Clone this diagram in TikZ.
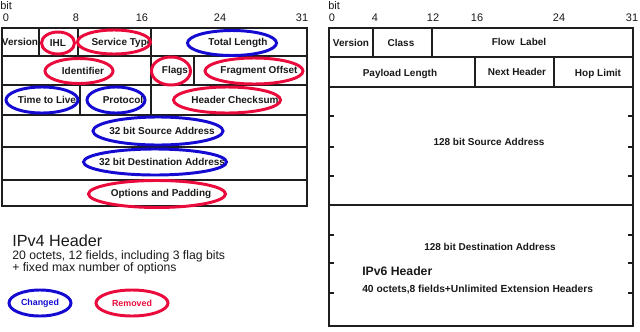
\documentclass[tikz,border=0pt]{standalone}
\usepackage{fontspec}
\setmainfont{Liberation Sans}
\usetikzlibrary{shapes.geometric}
\definecolor{chgblue}{RGB}{20,10,210}
\definecolor{rmvred}{RGB}{235,10,60}
\definecolor{tabline}{RGB}{30,30,30}
\definecolor{txtdark}{RGB}{25,25,25}
\newcommand{\pxu}{0.025cm}
\tikzset{
  field/.style={font=\fontsize{7.1}{8}\selectfont\bfseries, text=txtdark, inner sep=0pt},
  bitlbl/.style={font=\fontsize{7.8}{9}\selectfont, text=txtdark, inner sep=0pt},
  tabrule/.style={line width=0.9pt, color=tabline},
  notetxt/.style={anchor=base west, inner sep=0pt, font=\fontsize{8.7}{10}\selectfont, text=txtdark},
  chgring/.style 2 args={ellipse, draw=chgblue, line width=2.1pt,
    minimum width=#1*\pxu, minimum height=#2*\pxu, inner sep=0pt},
  rmvring/.style 2 args={ellipse, draw=rmvred, line width=2.1pt,
    minimum width=#1*\pxu, minimum height=#2*\pxu, inner sep=0pt}
}

\begin{document}
\begin{tikzpicture}[x=0.025cm, y=-0.025cm]
  \useasboundingbox (0,0) rectangle (640,331);

  % --- IPv4 header ---
  % bit scale
  \node[bitlbl, anchor=west] (vfbit) at (0,6) {bit};
  \node[bitlbl] (vfb0) at (6,18) {0};
  \node[bitlbl] (vfb8) at (76,18) {8};
  \node[bitlbl] (vfb16) at (142,18) {16};
  \node[bitlbl] (vfb24) at (220,18) {24};
  \node[bitlbl] (vfb31) at (302,18) {31};

  % frame and rows
  \draw[tabrule] (2,28) rectangle (307,206);
  \foreach \y in {56,85,115,147,180}
    \draw[tabrule] (2,\y) -- (307,\y);
  \draw[tabrule] (39,28) -- (39,56) (78,28) -- (78,56) (151,28) -- (151,56);
  \draw[tabrule] (151,56) -- (151,85) (194,56) -- (194,85);
  \draw[tabrule] (80,85) -- (80,115) (151,85) -- (151,115);

  % fields
  \node[field] (vfver) at (20,42) {Version};
  \node[field] (vfihl) at (58,43) {IHL};
  \node[field] (vftos) at (122,43) {Service Type};
  \node[field] (vflen) at (238,43) {Total Length};
  \node[field] (vfid) at (83,71) {Identifier};
  \node[field] (vfflags) at (175,71) {Flags};
  \node[field] (vffrag) at (259,71) {Fragment Offset};
  \node[field] (vfttl) at (47,100) {Time to Live};
  \node[field] (vfproto) at (123,100) {Protocol};
  \node[field] (vfcsum) at (235,100) {Header Checksum};
  \node[field] (vfsrc) at (162,131) {32 bit Source Address};
  \node[field] (vfdst) at (162,162) {32 bit Destination Address};
  \node[field] (vfopt) at (161,194) {Options and Padding};

  % rings round changed and removed fields
  \node[rmvring={33}{22}] (ihlring) at (58,43) {};
  \node[rmvring={73}{24}] (tosring) at (114,42) {};
  \node[chgring={89}{25}] (lenring) at (232,43) {};
  \node[rmvring={68}{25}] (idring) at (79,71) {};
  \node[rmvring={39}{28}] (flagsring) at (171,71) {};
  \node[rmvring={98}{26}] (fragring) at (254,71) {};
  \node[chgring={72}{26}] (ttlring) at (42,100) {};
  \node[chgring={58}{26}] (protoring) at (116,100) {};
  \node[rmvring={107}{26}] (csumring) at (227,100) {};
  \node[chgring={130}{28}] (srcring) at (158,131) {};
  \node[chgring={143}{26}] (dstring) at (155,162) {};
  \node[rmvring={137}{27}] (optring) at (157,194) {};

  % caption
  \node[notetxt, font=\fontsize{11.5}{13}\selectfont] (v4title) at (12,246) {IPv4 Header};
  \node[notetxt] (v4note) at (12,259) {20 octets, 12 fields, including 3 flag bits};
  \node[notetxt] (v4more) at (12,271) {+ fixed max number of options};

  % legend
  \node[chgring={62}{26}, text=chgblue, font=\fontsize{6.3}{7}\selectfont\bfseries] (chgkey) at (40,303) {Changed};
  \node[rmvring={72}{26}, text=rmvred, font=\fontsize{6.3}{7}\selectfont\bfseries] (rmvkey) at (132,303) {Removed};

  % --- IPv6 header ---
  % bit scale
  \node[bitlbl, anchor=west] (sxbit) at (328,6) {bit};
  \node[bitlbl] (sxb0) at (332,18) {0};
  \node[bitlbl] (sxb4) at (375,18) {4};
  \node[bitlbl] (sxb12) at (433,18) {12};
  \node[bitlbl] (sxb16) at (477,18) {16};
  \node[bitlbl] (sxb24) at (559,18) {24};
  \node[bitlbl] (sxb31) at (632,18) {31};

  % frame and rows
  \draw[tabrule] (329,28) rectangle (633,326);
  \foreach \y in {57,87,205}
    \draw[tabrule] (329,\y) -- (633,\y);
  \draw[tabrule] (373,28) -- (373,57) (432,28) -- (432,57);
  \draw[tabrule] (475,57) -- (475,87) (554,57) -- (554,87);
  % word ticks inside the address rows
  \foreach \y in {116,147,176,235,263,293}
    \draw[tabrule] (329,\y) -- (334,\y) (628,\y) -- (633,\y);

  % fields
  \node[field] (sxver) at (351,43) {Version};
  \node[field] (sxclass) at (401,43) {Class};
  \node[field] (sxflow) at (519,42) {Flow\ \ Label};
  \node[field] (sxplen) at (400,74) {Payload Length};
  \node[field] (sxnext) at (517,72) {Next Header};
  \node[field] (sxhop) at (598,74) {Hop Limit};
  \node[field] (sxsrc) at (489,142) {128 bit Source Address};
  \node[field] (sxdst) at (490,247) {128 bit Destination Address};

  % caption
  \node[anchor=west, inner sep=0pt, font=\fontsize{8.7}{10}\selectfont\bfseries, text=txtdark] (v6title) at (362,271) {IPv6 Header};
  \node[anchor=west, inner sep=0pt, font=\fontsize{7.3}{8}\selectfont\bfseries, text=txtdark] (v6note) at (362,290) {40 octets,8 fields+Unlimited Extension Headers};
\end{tikzpicture}
\end{document}
